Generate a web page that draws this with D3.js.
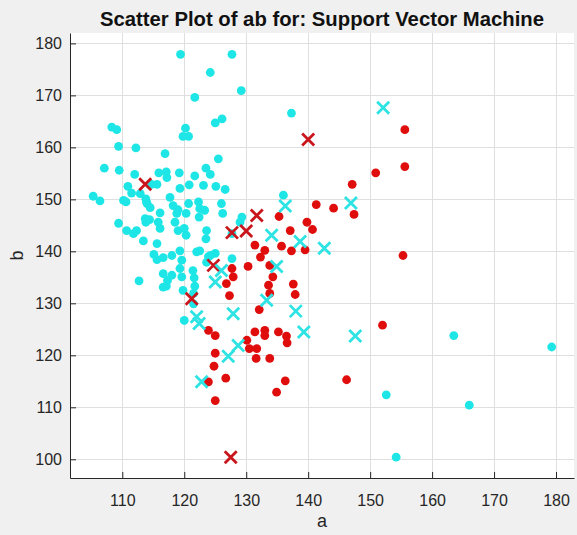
<!DOCTYPE html>
<html>
<head>
<meta charset="utf-8">
<script src="https://cdn.jsdelivr.net/npm/d3@7"></script>
<style>
  body { margin: 0; background: #f0f0f0; }
  text { font-family: "Liberation Sans", Arial, sans-serif; }
</style>
</head>
<body>
<div id="scatter"></div>
<script>
// Data (a, b)
// =================================
const cyanDots = [
  [119.4,177.9],[127.7,177.9],[124.2,174.4],[129.2,170.9],[121.7,169.6],[108.3,163.9],[109.1,163.4],
  [125.0,164.7],[126.1,165.5],[120.2,163.7],[119.8,162.1],[120.7,162.1],[109.4,160.2],[112.2,159.9],
  [116.9,158.8],[125.5,157.8],[107.1,156.0],[109.5,155.6],[112.0,154.8],[115.9,155.1],[117.1,155.3],
  [117.2,154.2],[119.2,155.1],[121.7,154.5],[123.5,156.0],[124.2,154.8],[110.9,152.5],[114.7,152.9],
  [115.6,152.9],[119.3,152.1],[120.8,152.8],[123.1,152.7],[125.1,152.5],[126.6,151.9],
  [111.5,151.2],[112.9,151.1],[113.8,150.1],[105.3,150.6],[106.4,149.7],[110.2,149.8],[110.6,149.5],
  [114.0,149.2],[114.5,148.4],[116.1,147.4],[117.7,150.4],[118.2,148.8],[119.0,148.0],[120.7,149.2],
  [120.3,147.3],[118.8,147.3],[122.3,149.5],[122.5,148.2],[123.3,147.9],[126.0,149.2],[126.2,147.3],
  [129.3,146.6],[129.0,145.6],[109.4,145.4],[110.7,144.0],[112.3,144.0],[113.8,145.6],[114.4,146.1],
  [115.8,145.6],[116.1,144.4],[118.5,145.6],[119.0,144.0],[120.0,144.4],[120.3,143.1],[123.6,144.0],
  [123.5,142.4],[113.4,142.0],[115.6,141.5],[115.1,139.4],[115.6,138.4],[116.6,138.8],[118.0,139.2],
  [119.3,140.1],[119.6,138.3],[122.0,139.9],[122.5,140.1],[123.9,139.0],[123.6,137.9],[125.0,139.6],
  [127.7,138.6],[121.4,136.3],[119.6,135.1],[121.6,134.9],[116.6,135.7],[117.3,134.4],[117.1,133.3],
  [112.7,134.3],[121.7,133.3],[121.5,129.9],[120.0,126.7],[127.7,143.4],
  [111.8,143.4],[122.4,146.6],[113.7,146.3],[124.2,139.2],[119.3,136.7],[116.6,133.1],[119.8,132.5],
  [121.5,131.9],[118.0,135.4],[113.9,149.5],
  [137.3,166.6],[136.0,150.8],[163.5,123.8],[179.3,121.6],[152.6,112.4],[166.0,110.4],[154.2,100.4]
];

const redDots = [
  [147.1,152.9],[150.9,155.1],[155.6,163.4],[155.6,156.3],[141.3,149.0],[144.1,148.3],[147.4,147.1],
  [135.3,146.7],[137.1,144.0],[139.8,145.6],[140.7,144.2],[131.4,141.2],[133.0,140.2],[132.3,138.9],
  [135.7,141.0],[137.3,140.1],[139.5,140.3],[127.7,136.7],[127.9,135.1],[126.8,133.8],[127.3,131.5],
  [130.3,137.1],[133.8,137.3],[134.3,135.1],[133.6,133.5],[133.8,131.9],[137.6,133.7],[137.9,131.7],
  [132.1,128.8],[123.9,124.8],[125.0,123.8],[131.4,124.5],[133.0,124.8],[133.0,123.8],[135.2,124.5],
  [136.5,123.7],[136.6,122.4],[130.1,122.9],[130.5,121.3],[131.7,121.3],[131.6,119.4],[133.8,119.4],
  [125.0,120.4],[124.8,117.9],[123.9,114.9],[126.7,115.6],[125.0,111.3],[136.3,115.1],[134.9,112.9],
  [146.2,115.3],[152.0,125.8],[155.3,139.2]
];

const cyanCrosses = [
  [152.1,167.6],[136.3,148.7],[146.9,149.3],[134.1,143.1],[138.7,141.9],[142.6,140.6],[126.0,136.3],
  [125.0,134.1],[134.9,137.1],[133.3,130.6],[138.0,128.5],[127.9,128.0],[122.0,127.4],[122.4,126.1],
  [139.3,124.5],[147.6,123.7],[127.1,119.8],[128.7,121.9],[122.8,114.9]
];

const redCrosses = [
  [113.7,152.9],[140.0,161.5],[131.7,146.9],[130.0,143.9],[127.7,143.6],[124.7,137.3],[121.2,130.9],
  [127.5,100.4]
];

const xTicks = [110, 120, 130, 140, 150, 160, 170, 180];
const yTicks = [100, 110, 120, 130, 140, 150, 160, 170, 180];

// Set up chart
// =================================
const svgWidth = 577;
const svgHeight = 535;

const margin = {
  top: 33,
  right: 3,
  bottom: 57,
  left: 70
};

const width = svgWidth - margin.left - margin.right;
const height = svgHeight - margin.top - margin.bottom;

const svg = d3.select("#scatter")
  .append("svg")
  .attr("width", svgWidth)
  .attr("height", svgHeight)
  .style("display", "block");

svg.append("rect")
  .attr("width", svgWidth)
  .attr("height", svgHeight)
  .attr("fill", "#f0f0f0");

const chartGroup = svg.append("g")
  .attr("transform", `translate(${margin.left}, ${margin.top})`);

chartGroup.append("rect")
  .attr("width", width)
  .attr("height", height)
  .attr("fill", "white");

// Scales
// =================================
const xScale = d3.scaleLinear()
  .domain([101.56, 182.9])
  .range([0, width]);

const yScale = d3.scaleLinear()
  .domain([96.4, 182.0])
  .range([height, 0]);

// Grid
// =================================
chartGroup.append("g")
  .selectAll("line")
  .data(xTicks)
  .enter()
  .append("line")
  .attr("x1", d => Math.round(xScale(d)) + 0.5)
  .attr("x2", d => Math.round(xScale(d)) + 0.5)
  .attr("y1", 0)
  .attr("y2", height)
  .attr("stroke", "#dfdfdf");

chartGroup.append("g")
  .selectAll("line")
  .data(yTicks)
  .enter()
  .append("line")
  .attr("y1", d => Math.round(yScale(d)) + 0.5)
  .attr("y2", d => Math.round(yScale(d)) + 0.5)
  .attr("x1", 0)
  .attr("x2", width)
  .attr("stroke", "#dfdfdf");

// Axes (ticks inside, like MATLAB)
// =================================
const bottomAxis = d3.axisBottom(xScale)
  .tickValues(xTicks)
  .tickSizeInner(-6)
  .tickSizeOuter(0)
  .tickPadding(17);

const leftAxis = d3.axisLeft(yScale)
  .tickValues(yTicks)
  .tickSizeInner(-6)
  .tickSizeOuter(0)
  .tickPadding(8);

const xAxisG = chartGroup.append("g")
  .attr("transform", `translate(0, ${height})`)
  .call(bottomAxis);

const yAxisG = chartGroup.append("g")
  .call(leftAxis);

[xAxisG, yAxisG].forEach(g => {
  g.select(".domain").attr("stroke", "#262626");
  g.selectAll(".tick line").attr("stroke", "#262626");
  g.selectAll(".tick text")
    .attr("fill", "#262626")
    .style("font-size", "16px");
});

// Marks
// =================================
const crossPath = s => `M${-s},${-s}L${s},${s}M${-s},${s}L${s},${-s}`;

chartGroup.append("g")
  .selectAll("circle")
  .data(cyanDots)
  .enter()
  .append("circle")
  .attr("cx", d => xScale(d[0]))
  .attr("cy", d => yScale(d[1]))
  .attr("r", 4.4)
  .attr("fill", "#1fe6e6");

chartGroup.append("g")
  .selectAll("circle")
  .data(redDots)
  .enter()
  .append("circle")
  .attr("cx", d => xScale(d[0]))
  .attr("cy", d => yScale(d[1]))
  .attr("r", 4.4)
  .attr("fill", "#e00d0d");

chartGroup.append("g")
  .selectAll("path")
  .data(redCrosses)
  .enter()
  .append("path")
  .attr("transform", d => `translate(${xScale(d[0])}, ${yScale(d[1])})`)
  .attr("d", crossPath(6))
  .attr("stroke", "#c8161c")
  .attr("stroke-width", 2.8)
  .attr("fill", "none");

chartGroup.append("g")
  .selectAll("path")
  .data(cyanCrosses)
  .enter()
  .append("path")
  .attr("transform", d => `translate(${xScale(d[0])}, ${yScale(d[1])})`)
  .attr("d", crossPath(6))
  .attr("stroke", "#2ee3e3")
  .attr("stroke-width", 2.8)
  .attr("fill", "none");

// Labels
// =================================
svg.append("text")
  .attr("x", margin.left + width / 2)
  .attr("y", 26)
  .attr("text-anchor", "middle")
  .style("font-size", "20.3px")
  .style("font-weight", "bold")
  .attr("fill", "#111")
  .text("Scatter Plot of ab for: Support Vector Machine");

svg.append("text")
  .attr("x", margin.left + width / 2)
  .attr("y", 527)
  .attr("text-anchor", "middle")
  .style("font-size", "18px")
  .attr("fill", "#262626")
  .text("a");

svg.append("text")
  .attr("transform", `translate(23, ${margin.top + height / 2}) rotate(-90)`)
  .attr("text-anchor", "middle")
  .style("font-size", "18px")
  .attr("fill", "#262626")
  .text("b");
</script>
</body>
</html>
